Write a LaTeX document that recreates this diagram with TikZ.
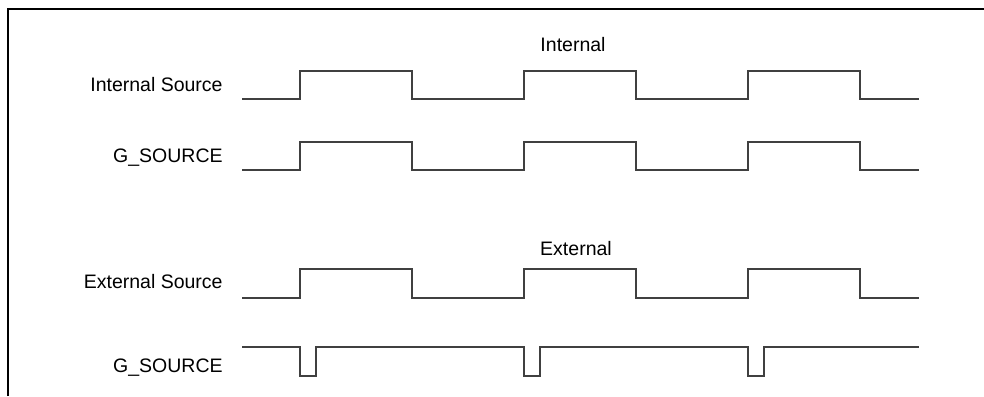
\documentclass[tikz,border=0pt]{standalone}
\usepackage{fontspec}
\setmainfont{Liberation Sans}
\begin{document}
\begin{tikzpicture}[x=0.5pt,y=-0.5pt,
        signame/.style={anchor=base east, inner sep=0pt, font=\fontsize{9.75}{12}\selectfont},
        modename/.style={anchor=base, inner sep=0pt, font=\fontsize{9.75}{12}\selectfont},
        wave/.style={draw=black!75, line width=0.6pt}]
        \useasboundingbox (0,0) rectangle (984,396);

        % Frame
        \draw[line width=0.9pt] (8,396) -- (8,9) -- (984,9);

        % Internal
        \node[modename] (int) at (573,51) {Internal};
        \node[signame] (intsrc) at (223,91) {Internal Source};
        \node[signame] (intgs) at (223,162) {G\_SOURCE};
        \draw[wave] (242,99) \foreach \x in {300,524,748} {
            -- (\x,99) -- (\x,71) -- (\x+112,71) -- (\x+112,99)} -- (919,99);
        \draw[wave] (242,170) \foreach \x in {300,524,748} {
            -- (\x,170) -- (\x,142) -- (\x+112,142) -- (\x+112,170)} -- (919,170);

        % External
        \node[modename] (ext) at (576,255) {External};
        \node[signame] (extsrc) at (223,288) {External Source};
        \node[signame] (extgs) at (223,372) {G\_SOURCE};
        \draw[wave] (242,298) \foreach \x in {300,524,748} {
            -- (\x,298) -- (\x,269) -- (\x+112,269) -- (\x+112,298)} -- (919,298);
        \draw[wave] (242,347) \foreach \x in {300,524,748} {
            -- (\x,347) -- (\x,376) -- (\x+16,376) -- (\x+16,347)} -- (919,347);
\end{tikzpicture}
\end{document}
